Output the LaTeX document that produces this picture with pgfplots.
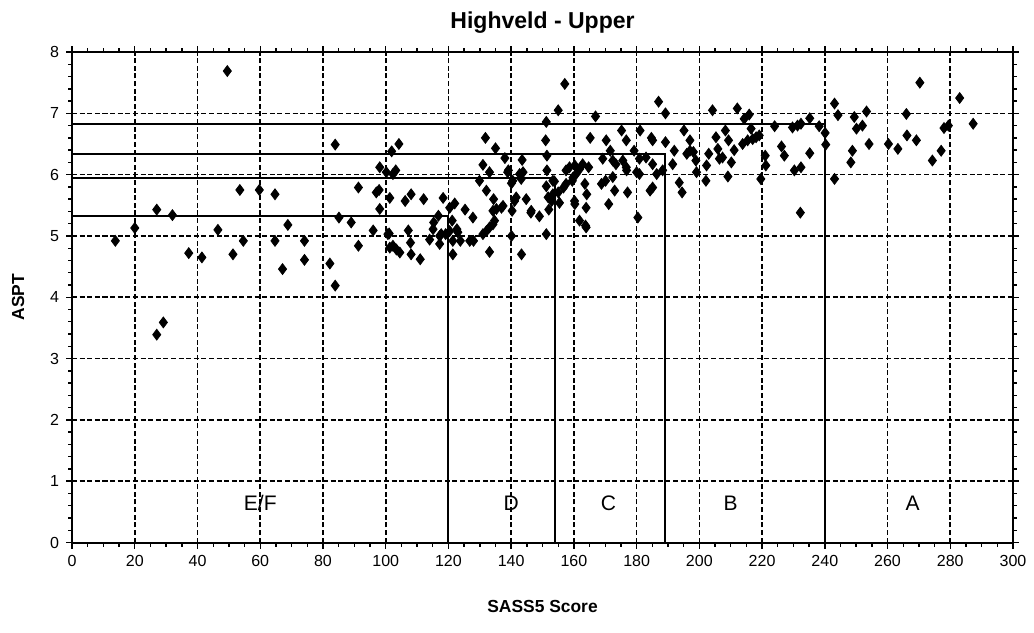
\documentclass[border=0pt]{standalone}
\usepackage{fontspec}
\setmainfont{Liberation Sans}
\usepackage{pgfplots}
\pgfplotsset{compat=1.18}

\pgfplotstableread{
x y
13.8 4.92
20 5.13
27 5.43
32 5.34
37.2 4.72
41.4 4.65
46.5 5.10
49.5 7.69
51.3 4.70
53.5 5.75
54.6 4.92
59.7 5.75
64.7 5.68
64.7 4.92
67.1 4.46
68.8 5.18
74.1 4.92
74.1 4.61
82.2 4.55
83.9 4.19
83.9 6.49
85.1 5.30
89 5.22
91.3 5.79
91.3 4.84
29.1 3.59
27 3.39
96 5.09
98.1 6.12
97 5.71
97.9 5.75
98.1 5.44
101.3 5.62
101.9 6.38
104.2 6.50
102.3 6.01
103.2 6.07
101.1 5.04
101.3 4.81
103.4 4.78
104.5 4.73
107.2 5.09
106.2 5.57
108.1 5.68
107.9 4.89
108.1 4.70
111 4.62
112.1 5.60
114 4.94
115.3 5.22
116.8 5.33
117.2 5.00
118.3 5.62
117.2 4.87
119.1 5.03
120.4 5.46
122 5.53
121.2 5.25
120.4 5.08
121.4 4.92
121.4 4.70
123 5.06
123.8 4.92
125.3 5.43
127.8 5.30
128 4.92
100.2 6.04
102.3 4.84
100.7 5.03
122.7 5.11
115.1 5.11
117.7 5.03
126.8 4.92
129.9 5.90
131 6.16
131.8 6.60
132.1 5.74
133.1 6.04
131 5.03
132.1 5.08
133.1 4.74
134.2 5.19
134.4 5.60
135 6.43
135.3 5.44
136.9 5.46
137.4 5.49
138 6.27
139.1 6.07
140.1 5.86
140.3 5.41
140.1 5.00
141.6 5.63
142.7 6.01
143.5 6.24
143.3 4.70
144.8 5.60
146.3 5.38
149 5.32
151.2 5.03
151 6.56
151.2 6.86
151.4 6.31
151.4 6.07
151.2 5.81
151.8 5.63
152 5.43
152.9 5.57
153.3 5.90
155 7.05
157.1 7.48
155 5.71
155.4 5.54
134.2 5.41
134.7 5.25
133.1 5.14
141.1 5.57
143.2 5.93
143.8 6.04
138.9 6.04
140.5 5.90
146.4 5.41
153.8 5.89
153.3 5.68
156.7 5.79
157.5 6.07
158.6 6.12
159.7 5.95
160.3 5.52
160.3 6.15
161.8 5.25
163.7 5.17
163.5 5.85
164.1 5.68
164.7 6.12
166.9 6.95
165.2 6.60
168.8 5.85
170.3 6.56
171.1 5.52
171.6 6.39
172.4 5.96
173 5.74
173.4 6.17
175.2 6.72
175.6 6.23
177.1 5.71
176.8 6.07
179.2 6.39
180 6.04
180.4 5.30
157.5 5.85
159.5 5.90
160.7 6.01
161.8 6.09
162.8 6.17
163.9 5.46
163.9 5.14
169.2 6.26
172.4 6.23
176.7 6.56
170.1 5.90
160.2 5.57
187 7.19
189.2 7.00
181.1 6.72
184.7 6.60
185.1 6.56
189.2 6.53
180.9 6.26
183 6.28
176.7 6.12
180.9 6.01
185.1 6.17
186.4 6.01
188.3 6.07
184.3 5.74
185.1 5.79
191.5 6.17
192 6.39
193.6 5.87
194.5 5.71
195.1 6.72
197 6.56
196 6.34
197 6.39
198.1 6.37
198.9 6.23
199.1 6.04
202.1 5.90
203 6.34
202.3 6.15
204.2 7.05
205.3 6.61
205.9 6.42
206.4 6.26
207.4 6.28
208.3 6.72
209.3 6.56
209.1 5.97
210.2 6.20
211.1 6.40
212.1 7.08
213.8 6.50
214.3 6.91
215.9 6.98
216.5 6.75
215.4 6.56
217 6.58
218.1 6.61
219.1 6.64
219.6 5.93
221 6.31
221.2 6.15
224 6.79
226.2 6.46
227.1 6.31
230.3 6.07
229.7 6.77
231.3 6.80
232.4 6.83
232.4 6.12
232.2 5.38
235.2 6.35
235.2 6.92
238.2 6.79
240.1 6.68
240.3 6.49
243.1 7.16
244.2 6.97
243.1 5.93
248.3 6.20
248.8 6.39
249.4 6.94
250.1 6.75
252 6.80
253.3 7.03
254.1 6.50
260.3 6.50
263.3 6.42
266 6.99
266.2 6.64
269.2 6.56
270.3 7.50
274.3 6.23
277.1 6.39
278 6.76
279.4 6.80
283 7.25
287.3 6.83
}\aspt

\begin{document}
\begin{tikzpicture}
\begin{axis}[
  scale only axis,
  width=470pt, height=245pt,
  xmin=0, xmax=300, ymin=0, ymax=8,
  xtick={0,20,...,300}, ytick={0,1,...,8},
  minor x tick num=3, minor y tick num=4,
  tick align=outside,
  major tick length=3pt, minor tick length=2pt,
  tick style={black, line width=0.7pt},
  axis line style={black, line width=1pt},
  grid=major,
  major grid style={black, line width=0.8pt, dash pattern=on 2.5pt off 1.3pt},
  /pgf/number format/assume math mode=true,
  ticklabel style={font=\fontsize{8}{9}\selectfont},
  title={\textbf{Highveld - Upper}},
  title style={font=\fontsize{11.5}{13}\selectfont, yshift=0pt},
  xlabel={\textbf{SASS5 Score}},
  xlabel style={font=\fontsize{8.7}{10}\selectfont, yshift=-10pt},
  ylabel={\textbf{ASPT}},
  ylabel style={font=\fontsize{8.7}{10}\selectfont, yshift=6pt},
  clip=false,
]
\addplot[black, line width=1pt] coordinates {(0,5.32) (120,5.32) (120,0)};
\addplot[black, line width=1pt] coordinates {(0,5.95) (154,5.95) (154,0)};
\addplot[black, line width=1pt] coordinates {(0,6.33) (189,6.33) (189,0)};
\addplot[black, line width=1pt] coordinates {(0,6.82) (240,6.82) (240,0)};
\addplot[only marks, mark=diamond*, mark size=2.7pt, black] table[x=x,y=y] {\aspt};
\node[font=\fontsize{10.5}{12}\selectfont] at (axis cs:60,0.64) {E/F};
\node[font=\fontsize{10.5}{12}\selectfont] at (axis cs:140,0.64) {D};
\node[font=\fontsize{10.5}{12}\selectfont] at (axis cs:171,0.64) {C};
\node[font=\fontsize{10.5}{12}\selectfont] at (axis cs:210,0.64) {B};
\node[font=\fontsize{10.5}{12}\selectfont] at (axis cs:268,0.64) {A};
\end{axis}
\path (current axis.south west) ++(-36pt,-45pt) (current axis.north east) ++(10.5pt,26pt);
\end{tikzpicture}
\end{document}
